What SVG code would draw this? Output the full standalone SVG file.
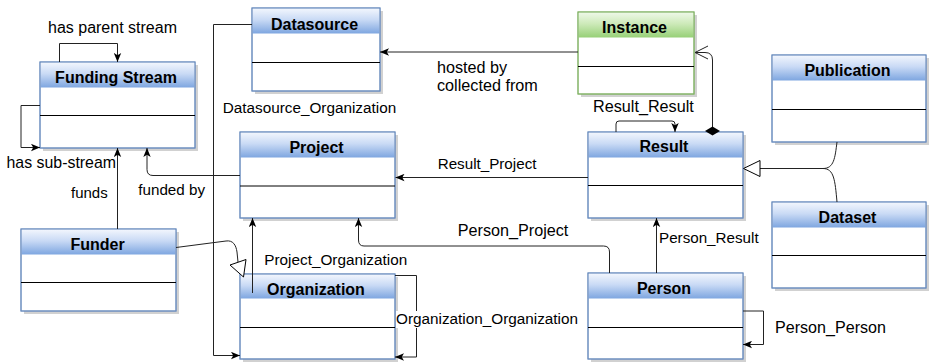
<svg xmlns="http://www.w3.org/2000/svg" width="930" height="363" viewBox="0 0 930 363">
<style>
.bx{fill:#fff;stroke:#6c8ebf;stroke-width:1}
.gbx{fill:#fff;stroke:#82b366;stroke-width:1}
.sh{fill:#000;fill-opacity:0.18}
.hb{fill:url(#gb)}
.hg{fill:url(#gg)}
.dv{stroke:#000;stroke-width:1}
.tt{font-family:"Liberation Sans",Arial,sans-serif;font-weight:bold;font-size:16px;fill:#000;text-anchor:middle}
.lb{font-family:"Liberation Sans",Arial,sans-serif;fill:#000}
.ln{fill:none;stroke:#222;stroke-width:1}
</style>
<defs>
<linearGradient id="gb" x1="0" y1="0" x2="0" y2="1">
<stop offset="0" stop-color="#f2f6fd"/>
<stop offset="0.45" stop-color="#c9daf5"/>
<stop offset="1" stop-color="#7ea6e0"/>
</linearGradient>
<linearGradient id="gg" x1="0" y1="0" x2="0" y2="1">
<stop offset="0" stop-color="#eef8e8"/>
<stop offset="0.45" stop-color="#cdeab9"/>
<stop offset="1" stop-color="#97d077"/>
</linearGradient>
<marker id="a" markerUnits="userSpaceOnUse" markerWidth="9" markerHeight="8" viewBox="0 0 9 8" refX="9" refY="4" orient="auto">
<path d="M0,0.3 L9,4 L0,7.7 L2.2,4 Z" fill="#000"/>
</marker>
</defs>

<g id="funding-stream">
<rect class="sh" x="43" y="65" width="155" height="86"/>
<rect class="bx" x="40" y="62" width="155" height="86"/>
<rect class="hb" x="40.5" y="62.5" width="154" height="25"/>
<rect x="40" y="62" width="155" height="86" fill="none" stroke="#6c8ebf"/>
<line class="dv" x1="40" y1="115.5" x2="195" y2="115.5"/>
<text class="tt" x="116" y="83">Funding Stream</text>
</g>

<g id="datasource">
<rect class="sh" x="255" y="11" width="128" height="83"/>
<rect class="bx" x="252" y="8" width="128" height="83"/>
<rect class="hb" x="252.5" y="8.5" width="127" height="25"/>
<rect x="252" y="8" width="128" height="83" fill="none" stroke="#6c8ebf"/>
<line class="dv" x1="252" y1="62.5" x2="380" y2="62.5"/>
<text class="tt" x="314.5" y="30">Datasource</text>
</g>

<g id="instance">
<rect class="sh" x="581" y="15" width="116" height="82"/>
<rect class="gbx" x="578" y="12" width="116" height="82"/>
<rect class="hg" x="578.5" y="12.5" width="115" height="25"/>
<rect x="578" y="12" width="116" height="82" fill="none" stroke="#82b366"/>
<line class="dv" x1="578" y1="66.5" x2="694" y2="66.5"/>
<text class="tt" x="634.5" y="32.5">Instance</text>
</g>

<g id="publication">
<rect class="sh" x="775" y="58" width="154" height="87"/>
<rect class="bx" x="772" y="55" width="154" height="87"/>
<rect class="hb" x="772.5" y="55.5" width="153" height="25"/>
<rect x="772" y="55" width="154" height="87" fill="none" stroke="#6c8ebf"/>
<line class="dv" x1="772" y1="109.5" x2="926" y2="109.5"/>
<text class="tt" x="847.5" y="76">Publication</text>
</g>

<g id="result">
<rect class="sh" x="591" y="135" width="155" height="86"/>
<rect class="bx" x="588" y="132" width="155" height="86"/>
<rect class="hb" x="588.5" y="132.5" width="154" height="25"/>
<rect x="588" y="132" width="155" height="86" fill="none" stroke="#6c8ebf"/>
<line class="dv" x1="588" y1="185.5" x2="743" y2="185.5"/>
<text class="tt" x="664" y="152">Result</text>
</g>

<g id="dataset">
<rect class="sh" x="775" y="205" width="154" height="86"/>
<rect class="bx" x="772" y="202" width="154" height="86"/>
<rect class="hb" x="772.5" y="202.5" width="153" height="25"/>
<rect x="772" y="202" width="154" height="86" fill="none" stroke="#6c8ebf"/>
<line class="dv" x1="772" y1="255.5" x2="926" y2="255.5"/>
<text class="tt" x="847.5" y="222.5">Dataset</text>
</g>

<g id="person">
<rect class="sh" x="591" y="276" width="155" height="86"/>
<rect class="bx" x="588" y="273" width="155" height="86"/>
<rect class="hb" x="588.5" y="273.5" width="154" height="25"/>
<rect x="588" y="273" width="155" height="86" fill="none" stroke="#6c8ebf"/>
<line class="dv" x1="588" y1="327.5" x2="743" y2="327.5"/>
<text class="tt" x="664" y="294">Person</text>
</g>

<g id="project">
<rect class="sh" x="243" y="135" width="155" height="86"/>
<rect class="bx" x="240" y="132" width="155" height="86"/>
<rect class="hb" x="240.5" y="132.5" width="154" height="25"/>
<rect x="240" y="132" width="155" height="86" fill="none" stroke="#6c8ebf"/>
<line class="dv" x1="240" y1="186" x2="395" y2="186"/>
<text class="tt" x="316.5" y="152.5">Project</text>
</g>

<g id="organization">
<rect class="sh" x="243" y="277" width="155" height="85"/>
<rect class="bx" x="240" y="274" width="155" height="85"/>
<rect class="hb" x="240.5" y="274.5" width="154" height="24"/>
<rect x="240" y="274" width="155" height="85" fill="none" stroke="#6c8ebf"/>
<line class="dv" x1="240" y1="327.5" x2="395" y2="327.5"/>
<text class="tt" x="316" y="294.5">Organization</text>
</g>

<g id="funder">
<rect class="sh" x="24" y="232" width="155" height="82"/>
<rect class="bx" x="21" y="229" width="155" height="82"/>
<rect class="hb" x="21.5" y="229.5" width="154" height="25"/>
<rect x="21" y="229" width="155" height="82" fill="none" stroke="#6c8ebf"/>
<line class="dv" x1="21" y1="282.5" x2="176" y2="282.5"/>
<text class="tt" x="97.5" y="249.5">Funder</text>
</g>

<g id="connectors">
<path class="ln" d="M59.5,62 V43.5 H117.5 V62" marker-end="url(#a)"/>
<path class="ln" d="M40,105.5 H21 V147.5 H40" marker-end="url(#a)"/>
<path class="ln" d="M117.5,229 V148" marker-end="url(#a)"/>
<path class="ln" d="M240,175.5 H153 Q147,175.5 147,169.5 V148" marker-end="url(#a)"/>
<path class="ln" d="M252,24.5 H213.5 V355.5 H240" marker-end="url(#a)"/>
<path class="ln" d="M578,52 H380" marker-end="url(#a)"/>
<path class="ln" d="M712.5,127 V60 Q712.5,52.5 705,52.5 H695"/>
<path class="ln" d="M708,46 L695,52.5 L708,59"/>
<path d="M712.5,135.5 L720,131 L712.5,126.5 L705,131 Z" fill="#000"/>
<path class="ln" d="M616,132 V124 Q616,121 619,121 H672 Q675,121 675,124 V132" marker-end="url(#a)"/>
<path class="ln" d="M760,168.5 H823"/>
<path class="ln" d="M837,142 C835,158 834,168.5 823,168.5 M837,202 C835,180 834,168.5 823,168.5"/>
<path d="M743.5,168.5 L760,160.5 L760,176.5 Z" fill="#fff" stroke="#000" stroke-width="1"/>
<path class="ln" d="M588,177.5 H395.5" marker-end="url(#a)"/>
<path class="ln" d="M609.5,273 V252 Q609.5,246 603.5,246 H364 Q358.5,246 358.5,240 V218" marker-end="url(#a)"/>
<path class="ln" d="M656.5,273 V218" marker-end="url(#a)"/>
<path class="ln" d="M743,311 H763.5 V344.5 H743" marker-end="url(#a)"/>
<path class="ln" d="M252.5,293 V218" marker-end="url(#a)"/>
<path class="ln" d="M395,275.5 H416.5 V357 H395" marker-end="url(#a)"/>
<path class="ln" d="M176,247.5 L226,241 C233,240 236,245 237,252 L238,262"/>
<path d="M243.5,277 L230,265 L246,259.5 Z" fill="#fff" stroke="#000" stroke-width="1"/>
</g>

<g id="labels">
<text class="lb" x="48" y="33.3" font-size="16">has parent stream</text>
<text class="lb" x="6.5" y="168.3" font-size="15.9">has sub-stream</text>
<text class="lb" x="71" y="198" font-size="15">funds</text>
<text class="lb" x="138.3" y="195" font-size="15.2">funded by</text>
<text class="lb" x="222.7" y="113.3" font-size="15.3">Datasource_Organization</text>
<text class="lb" x="437" y="72.7" font-size="16.2">hosted by</text>
<text class="lb" x="437" y="90.7" font-size="16.2">collected from</text>
<text class="lb" x="593" y="111.7" font-size="16.2">Result_Result</text>
<text class="lb" x="437.7" y="169" font-size="15.2">Result_Project</text>
<text class="lb" x="457.7" y="235.7" font-size="16.2">Person_Project</text>
<text class="lb" x="264.3" y="265" font-size="15.3">Project_Organization</text>
<rect x="396" y="311" width="183" height="17" fill="#fff"/>
<text class="lb" x="396" y="324" font-size="15.3">Organization_Organization</text>
<text class="lb" x="659" y="243.3" font-size="15.2">Person_Result</text>
<text class="lb" x="775" y="332.7" font-size="16.1">Person_Person</text>
</g>
</svg>
